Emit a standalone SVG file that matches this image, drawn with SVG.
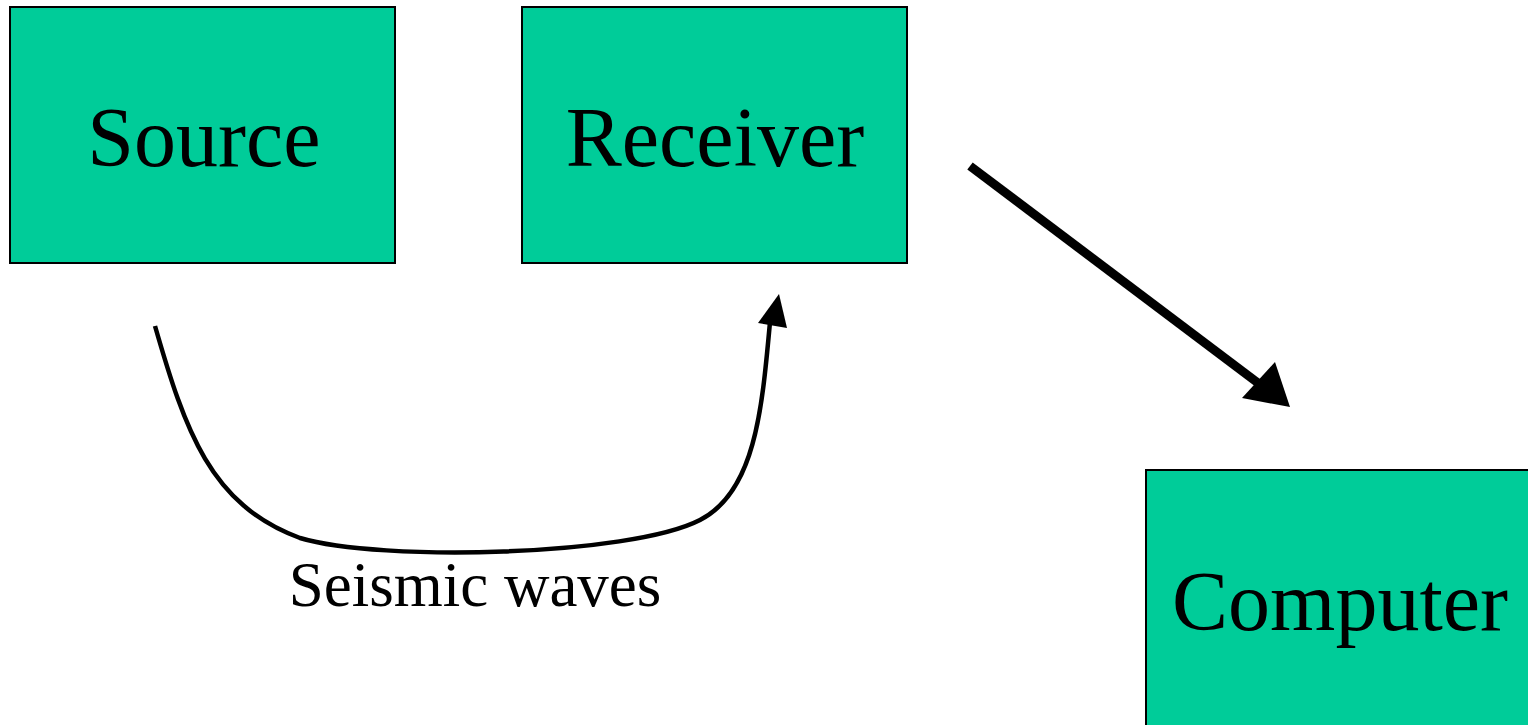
<svg xmlns="http://www.w3.org/2000/svg" width="1528" height="725" viewBox="0 0 1528 725">
<style>
.box{fill:#00CC99;stroke:#000;stroke-width:2}
.lbl{font-family:"Liberation Serif","Times New Roman",serif;font-size:84px;fill:#000;text-anchor:middle}
.cap{font-family:"Liberation Serif","Times New Roman",serif;font-size:63px;fill:#000;text-anchor:middle}
</style>
<rect width="1528" height="725" fill="#fff"/>
<g id="source"><rect class="box" x="10" y="7" width="385" height="256"/><text class="lbl" x="204" y="166">Source</text></g>
<g id="receiver"><rect class="box" x="522" y="7" width="385" height="256"/><text class="lbl" x="715" y="166">Receiver</text></g>
<g id="computer"><rect class="box" x="1146" y="470" width="390" height="270"/><text class="lbl" x="1340" y="630">Computer</text></g>
<g id="connectors">
<path d="M155,326 C185,430 210,505 300,538 C380,562 630,556 700,520 C755,492 762,410 770,322" fill="none" stroke="#000" stroke-width="4.5"/>
<polygon points="779,294 758,323 787,328" fill="#000"/>
<line x1="970" y1="166" x2="1262" y2="386" stroke="#000" stroke-width="9"/>
<polygon points="1290,407 1242,398 1275,362" fill="#000"/>
<text class="cap" x="475" y="606">Seismic waves</text>
</g>
</svg>
